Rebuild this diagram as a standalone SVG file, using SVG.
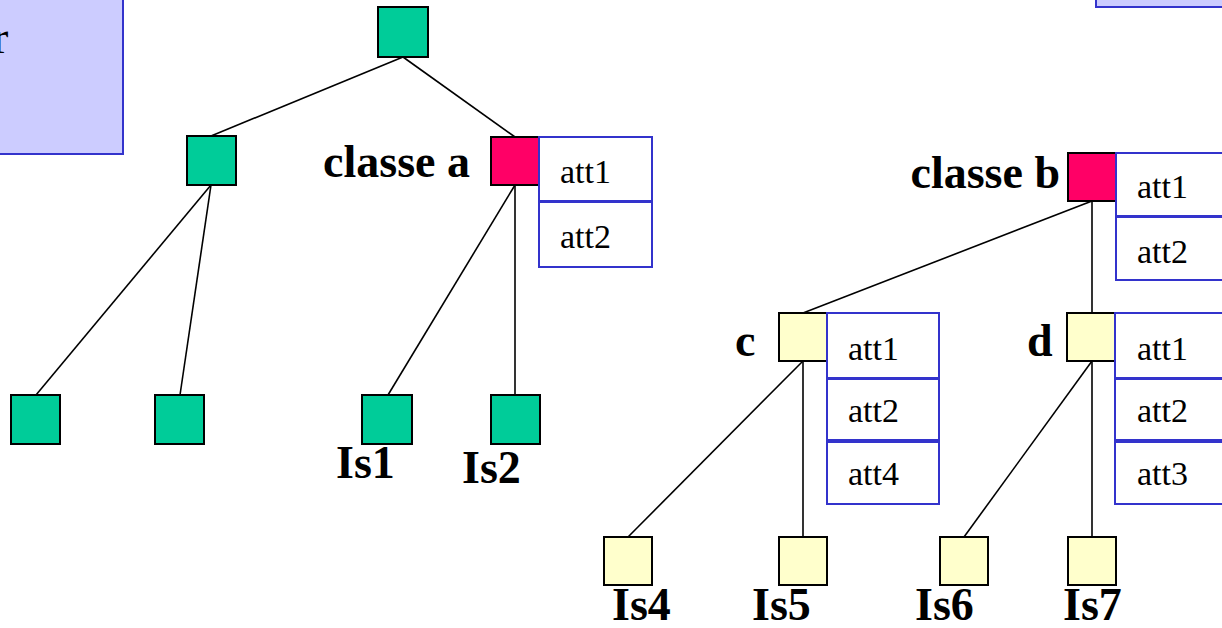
<svg xmlns="http://www.w3.org/2000/svg" width="1222" height="628" viewBox="0 0 1222 628">
  <style>
    .panel { fill: #ccccff; stroke: #3333cc; stroke-width: 2; }
    .node { stroke: #000; stroke-width: 2; }
    .g { fill: #00cc99; }
    .r { fill: #ff0066; }
    .y { fill: #ffffcc; }
    .att { fill: #fff; stroke: #3333cc; stroke-width: 2; }
    .att-t { font-family: "Liberation Serif", "Times New Roman", serif; font-size: 34px; fill: #000; }
    .lbl { font-family: "Liberation Serif", "Times New Roman", serif; font-size: 46px; font-weight: bold; fill: #000; }
    .edge { stroke: #000; stroke-width: 1.6; fill: none; }
  </style>
  <rect width="1222" height="628" fill="#fff"/>

  <!-- side panels, clipped by the page edge -->
  <g id="panel-left">
    <rect class="panel" x="-4" y="-4" width="127" height="158"/>
    <text class="att-t" x="-7" y="53" style="font-size:46px">r</text>
  </g>
  <g id="panel-right">
    <rect class="panel" x="1096" y="-4" width="130" height="11"/>
  </g>

  <!-- connectors -->
  <g id="edges">
    <line class="edge" x1="403" y1="57" x2="211" y2="136"/>
    <line class="edge" x1="403" y1="57" x2="515" y2="137"/>
    <line class="edge" x1="211" y1="185" x2="36" y2="395"/>
    <line class="edge" x1="211" y1="185" x2="180" y2="395"/>
    <line class="edge" x1="515" y1="185" x2="388" y2="395"/>
    <line class="edge" x1="515" y1="185" x2="515" y2="395"/>
    <line class="edge" x1="1092" y1="201" x2="803" y2="313"/>
    <line class="edge" x1="1092" y1="201" x2="1092" y2="313"/>
    <line class="edge" x1="803" y1="361" x2="628" y2="537"/>
    <line class="edge" x1="803" y1="361" x2="803" y2="537"/>
    <line class="edge" x1="1092" y1="361" x2="964" y2="537"/>
    <line class="edge" x1="1092" y1="361" x2="1092" y2="537"/>
  </g>

  <g id="root"><rect class="node g" x="378" y="7" width="50" height="50"/></g>
  <g id="left-inner"><rect class="node g" x="187" y="136" width="49" height="49"/></g>
  <g id="left-leaf-1"><rect class="node g" x="11" y="395" width="49" height="49"/></g>
  <g id="left-leaf-2"><rect class="node g" x="155" y="395" width="49" height="49"/></g>

  <g id="classe-a">
    <text class="lbl" x="470" y="177" text-anchor="end">classe a</text>
    <rect class="node r" x="491" y="137" width="48" height="48"/>
    <rect class="att" x="539" y="137" width="113" height="64"/>
    <rect class="att" x="539" y="202" width="113" height="65"/>
    <text class="att-t" x="560" y="183">att1</text>
    <text class="att-t" x="560" y="248">att2</text>
  </g>
  <g id="is1">
    <rect class="node g" x="362" y="395" width="50" height="49"/>
    <text class="lbl" x="336" y="478">Is1</text>
  </g>
  <g id="is2">
    <rect class="node g" x="491" y="395" width="49" height="49"/>
    <text class="lbl" x="462" y="483">Is2</text>
  </g>

  <g id="classe-b">
    <text class="lbl" x="1060" y="188" text-anchor="end">classe b</text>
    <rect class="node r" x="1068" y="153" width="48" height="48"/>
    <rect class="att" x="1116" y="153" width="110" height="63"/>
    <rect class="att" x="1116" y="217" width="110" height="63"/>
    <text class="att-t" x="1137" y="198">att1</text>
    <text class="att-t" x="1137" y="263">att2</text>
  </g>

  <g id="c">
    <text class="lbl" x="735" y="356">c</text>
    <rect class="node y" x="779" y="313" width="48" height="48"/>
    <rect class="att" x="827" y="313" width="112" height="65"/>
    <rect class="att" x="827" y="379" width="112" height="61"/>
    <rect class="att" x="827" y="442" width="112" height="62"/>
    <text class="att-t" x="848" y="360">att1</text>
    <text class="att-t" x="848" y="422">att2</text>
    <text class="att-t" x="848" y="485">att4</text>
  </g>

  <g id="d">
    <text class="lbl" x="1027" y="356">d</text>
    <rect class="node y" x="1067" y="313" width="48" height="48"/>
    <rect class="att" x="1115" y="313" width="111" height="65"/>
    <rect class="att" x="1115" y="379" width="111" height="61"/>
    <rect class="att" x="1115" y="442" width="111" height="62"/>
    <text class="att-t" x="1137" y="360">att1</text>
    <text class="att-t" x="1137" y="422">att2</text>
    <text class="att-t" x="1137" y="485">att3</text>
  </g>

  <g id="is4">
    <rect class="node y" x="604" y="537" width="48" height="48"/>
    <text class="lbl" x="612" y="620">Is4</text>
  </g>
  <g id="is5">
    <rect class="node y" x="779" y="537" width="48" height="48"/>
    <text class="lbl" x="752" y="620">Is5</text>
  </g>
  <g id="is6">
    <rect class="node y" x="940" y="537" width="48" height="48"/>
    <text class="lbl" x="915" y="620">Is6</text>
  </g>
  <g id="is7">
    <rect class="node y" x="1068" y="537" width="48" height="48"/>
    <text class="lbl" x="1063" y="620">Is7</text>
  </g>
</svg>
